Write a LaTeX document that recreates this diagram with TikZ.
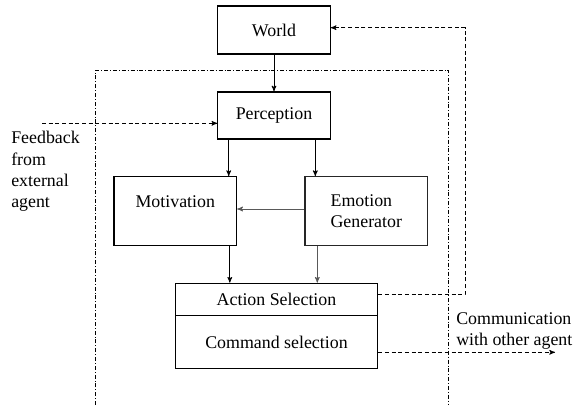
\documentclass[tikz,border=0pt]{standalone}
\usepackage{fontspec}
\setmainfont{Liberation Serif}
\usetikzlibrary{calc, arrows}

\begin{document}
\begin{tikzpicture}[x=0.75pt,y=-0.75pt,->,>=stealth',
  every node/.style={font=\fontsize{13.4}{16}\selectfont},
  box/.style={shape=rectangle,draw,line width=0.9pt,inner sep=0pt},
  txt/.style={inner sep=0pt,align=left},
  flow/.style={line width=0.6pt},
  comm/.style={line width=0.6pt,dashed,dash pattern=on 3pt off 2pt},
  frame/.style={-,line width=0.5pt,dash pattern=on 3pt off 1.5pt on 0.6pt off 1.5pt},
%scale=0.7, transform shape
]
\useasboundingbox (0,0) rectangle (574,405);

\node [box,minimum width=84.2pt,minimum height=36pt] (nW) at (274,30) {World};
\node [box,minimum width=84.2pt,minimum height=35.3pt] (nP) at (274,115.5) {Perception};
\node [box,minimum width=92pt,minimum height=51.8pt,
       label={[anchor=center,yshift=-19pt,inner sep=0pt]north:Motivation}] (nM) at (175.3,211.2) {};
\node [box,draw=black!85,minimum width=92pt,minimum height=51.8pt,align=left] (nE) at (366.3,211.2) {Emotion\\Generator};
\node [box,minimum width=151.8pt,minimum height=24.3pt] (nA) at (276.5,299.5) {Action Selection};
\node [box,minimum width=151.8pt,minimum height=39.5pt] (nC) at (276.5,342) {Command selection};

\node [txt,anchor=north west] (nF) at (11,131) {Feedback\\from\\external\\agent};
\node [txt,anchor=north west] (nO) at (456,312) {Communication\\with other agent};

\coordinate (nFs) at (42,123.3);
\coordinate (nCe) at (555,352.3);
\coordinate (nR) at (465,0);

% agent frame
\draw [frame] (95.6,405) -- (95.6,70.3) -- (448.5,70.3) -- (448.5,405);

\draw [flow] (nW) -- (nP);
\draw [flow] (nP.south -| 228.7,0) -- (nM.north -| 228.7,0);
\draw [flow] (nP.south -| 315.3,0) -- (nE.north -| 315.3,0);
\draw [flow,black!65] (nE.west |- 0,209) -- (nM.east |- 0,209);
\draw [flow] (nM.south -| 229.8,0) -- (nA.north -| 229.8,0);
\draw [flow,black!65] (nE.south -| 317.3,0) -- (nA.north -| 317.3,0);

\draw [comm] (nFs) -- (nP.west |- nFs);
\draw [comm] (nA.east |- 0,294.7) -- (nR |- 0,294.7) -- (nR |- 0,27.7) -- (nW.east |- 0,27.7);
\draw [comm] (nC.east |- nCe) -- (nCe);

\end{tikzpicture}
\end{document}
